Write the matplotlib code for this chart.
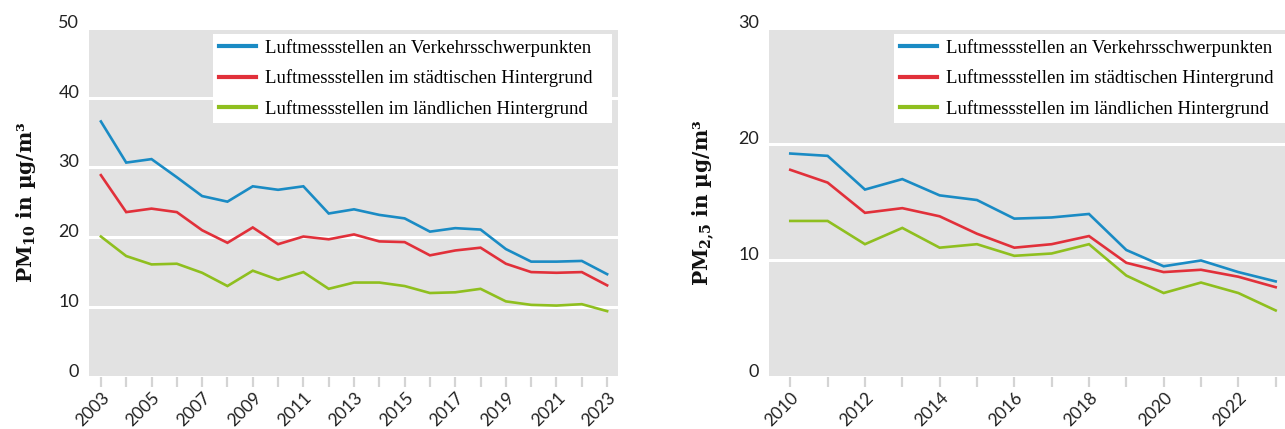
import matplotlib
matplotlib.use("Agg")
import matplotlib.pyplot as plt
import matplotlib.transforms as mtransforms

# ---- data ----
years_pm10 = list(range(2003, 2024))
pm10_verkehr = [36.6, 30.7, 31.2, 28.6, 25.9, 25.1, 27.3, 26.8, 27.3, 23.4, 24.0,
                23.2, 22.7, 20.8, 21.3, 21.1, 18.3, 16.5, 16.5, 16.6, 14.7]
pm10_stadt = [28.9, 23.6, 24.1, 23.6, 21.0, 19.2, 21.4, 19.0, 20.1, 19.7, 20.4,
              19.4, 19.3, 17.4, 18.1, 18.5, 16.2, 15.0, 14.9, 15.0, 13.1]
pm10_land = [20.1, 17.3, 16.1, 16.2, 14.9, 13.0, 15.2, 13.9, 15.0, 12.6, 13.5,
             13.5, 13.0, 12.0, 12.1, 12.6, 10.8, 10.3, 10.2, 10.4, 9.4]

years_pm25 = list(range(2010, 2024))
pm25_verkehr = [19.2, 19.0, 16.1, 17.0, 15.6, 15.2, 13.6, 13.7, 14.0, 10.9, 9.5, 10.0, 9.0, 8.2]
pm25_stadt = [17.8, 16.7, 14.1, 14.5, 13.8, 12.3, 11.1, 11.4, 12.1, 9.8, 9.0, 9.2, 8.6, 7.7]
pm25_land = [13.4, 13.4, 11.4, 12.8, 11.1, 11.4, 10.4, 10.6, 11.4, 8.7, 7.2, 8.1, 7.2, 5.7]

series_labels = ["Luftmessstellen an Verkehrsschwerpunkten",
                 "Luftmessstellen im städtischen Hintergrund",
                 "Luftmessstellen im ländlichen Hintergrund"]
series_colors = ["#1a8bc4", "#e1303a", "#8fbf1f"]

yticks_pm10 = [0, 10, 20, 30, 40, 50]
yticks_pm25 = [0, 10, 20, 30]
xlabels_pm10 = list(range(2003, 2024, 2))
xlabels_pm25 = list(range(2010, 2023, 2))

ylabel_pm10 = r"PM$_{\mathbf{10}}$ in µg/m³"
ylabel_pm25 = r"PM$_{\mathbf{2{,}5}}$ in µg/m³"

plt.rcParams["mathtext.fontset"] = "dejavuserif"

W, H = 1285, 429
fig = plt.figure(figsize=(W / 100, H / 100), dpi=100)
fig.patch.set_facecolor("white")

BG = "#e2e2e2"
TICKFONT = "Lato"
SERIF = "Liberation Serif"
LABELFONT = "DejaVu Serif"


def make_axes(px_left, px_right, px_top, px_bottom):
    return fig.add_axes([px_left / W, 1 - px_bottom / H,
                         (px_right - px_left) / W, (px_bottom - px_top) / H])


def style(ax, years, data, yticks, xlabels, xlim, ylabel, label_x, leg_box):
    ax.set_facecolor(BG)
    for s in ax.spines.values():
        s.set_visible(False)
    for vals, col, lab in zip(data, series_colors, series_labels):
        ax.plot(years, vals, color=col, lw=1.9, label=lab, solid_joinstyle="miter")
    ax.set_ylim(yticks[0], yticks[-1])
    ax.set_xlim(*xlim)
    ax.set_yticks(yticks)
    ax.set_yticklabels([str(v) for v in yticks], fontfamily=TICKFONT,
                       fontsize=13, color="#222222", va="baseline")
    ax.yaxis.grid(True, color="white", lw=2.2)
    ax.set_axisbelow(True)
    ax.tick_params(axis="y", length=0, pad=7)
    ax.set_xticks(years)
    ax.set_xticklabels([str(y) if y in xlabels else "" for y in years],
                       rotation=45, ha="right", va="center", rotation_mode="anchor",
                       fontfamily=TICKFONT, fontsize=12.5, color="#222222")
    ax.tick_params(axis="x", length=7, width=1.6, color="#d4d4d4", pad=6)
    off = mtransforms.ScaledTranslation(6 / 100, 0, fig.dpi_scale_trans)
    for lbl in ax.get_xticklabels():
        lbl.set_transform(lbl.get_transform() + off)
    ax.set_ylabel(ylabel, fontfamily=LABELFONT, fontweight="bold", fontsize=14.5,
                  color="#111111")
    ax.yaxis.set_label_coords(label_x, 0.5)
    leg = ax.legend(loc="upper left", bbox_to_anchor=leg_box, mode="expand",
                    frameon=True, fancybox=False, framealpha=1,
                    edgecolor="white", facecolor="white",
                    prop={"family": SERIF, "size": 13.5},
                    handlelength=2.0, handletextpad=0.45, borderpad=0.3,
                    labelspacing=0.66, borderaxespad=0)
    leg.get_frame().set_linewidth(0)
    for line in leg.get_lines():
        line.set_linewidth(3.0)
    return ax


# left: PM10
axL = make_axes(89, 618, 28, 376.7)
style(axL, years_pm10, [pm10_verkehr, pm10_stadt, pm10_land], yticks_pm10,
      xlabels_pm10, (2002.53, 2023.43), ylabel_pm10, (38 - 89) / 529,
      ((213 - 89) / 529, 0, (612 - 213) / 529, (376.7 - 33.5) / 348.7))

# right: PM2.5
axR = make_axes(769, 1285, 28, 376.7)
style(axR, years_pm25, [pm25_verkehr, pm25_stadt, pm25_land], yticks_pm25,
      xlabels_pm25, (2009.43, 2023.25), ylabel_pm25, (717 - 769) / 516,
      ((894 - 769) / 516, 0, 1 - (894 - 769) / 516, (376.7 - 33.5) / 348.7))

fig.savefig("out.png", dpi=100)
